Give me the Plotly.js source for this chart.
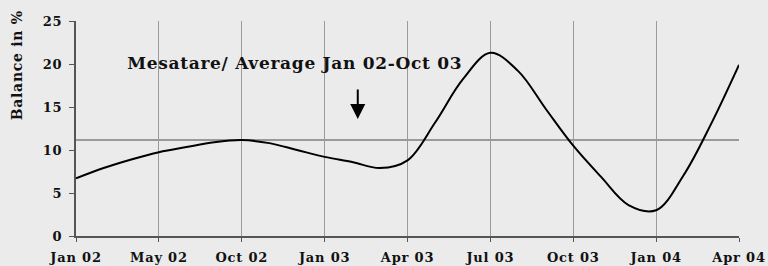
<!DOCTYPE html>
<html>
<head>
<meta charset="utf-8">
<script src="https://cdn.plot.ly/plotly-3.0.1.min.js"></script>
<style>
html,body{margin:0;padding:0;background:#ebebeb;}
#chart{width:768px;height:266px;}
#chart .xtick text, #chart .ytick text{letter-spacing:0.8px;}
#chart .annotation-text{letter-spacing:0.7px;}
</style>
</head>
<body>
<div id="chart"></div>
<script>
// Tick labels (every third point)
const tickLabels = ["Jan 02","May 02","Oct 02","Jan 03","Apr 03","Jul 03","Oct 03","Jan 04","Apr 04"];
// Point index along the category axis
const pointIndex = [0,1,2,3,4,5,6,7,8,9,10,11,12,13,14,15,16,17,18,19,20,21,22,23,24];
// Balance in %
const balance = [6.7,7.9,8.9,9.75,10.35,10.9,11.15,10.8,10.0,9.2,8.6,7.9,8.8,13.2,18.2,21.3,19.2,14.8,10.5,6.9,3.6,3.0,7.1,13.1,19.9];
// Average Jan 02 - Oct 03
const averageValue = 11.15;
const annotationText = "Mesatare/ Average Jan 02-Oct 03";
const yTitle = "Balance in %";

const tickVals = tickLabels.map((_, i) => i * 3);
const font = {family: "DejaVu Serif, serif", size: 13, color: "#111", weight: "bold"};

const traces = [
  {x: [pointIndex[0], pointIndex[pointIndex.length-1]], y: [averageValue, averageValue], mode: "lines",
   line: {color: "#9a9a9a", width: 2}, hoverinfo: "skip"},
  {x: pointIndex, y: balance, mode: "lines", line: {color: "#000", width: 2, shape: "spline", smoothing: 1}}
];

const layout = {
  width: 768, height: 266,
  margin: {l: 76, r: 29, t: 21, b: 30},
  paper_bgcolor: "#ebebeb", plot_bgcolor: "#ebebeb",
  showlegend: false,
  font: font,
  xaxis: {range: [0, 24], tickvals: tickVals, ticktext: tickLabels, showgrid: true, gridcolor: "#9a9a9a", gridwidth: 1,
          showline: true, linecolor: "#555", linewidth: 2, ticks: "outside", ticklen: 4, tickcolor: "#555",
          zeroline: false, tickfont: font, ticklabelstandoff: 4, fixedrange: true},
  yaxis: {range: [0, 25], dtick: 5, showgrid: false, showline: true, linecolor: "#555", linewidth: 2,
          ticks: "outside", ticklen: 5, tickcolor: "#555", zeroline: false, tickfont: font, ticklabelstandoff: 4, fixedrange: true},
  annotations: [
    {xref: "paper", yref: "paper", x: (17 - 76) / 663, y: (236 - 66) / 215, text: yTitle, textangle: -90,
     showarrow: false, xanchor: "center", yanchor: "middle", font: Object.assign({}, font, {size: 14})},
    {xref: "paper", yref: "paper", x: (294 - 76) / 663, y: (236 - 63) / 215, text: annotationText,
     showarrow: false, xanchor: "center", yanchor: "middle", font: Object.assign({}, font, {size: 17})},
    {x: 10.2, y: 13.6, text: "", showarrow: true, ax: 0, ay: -31, arrowhead: 2, arrowsize: 1.5, arrowwidth: 2, arrowcolor: "#000"}
  ]
};

Plotly.newPlot("chart", traces, layout, {displayModeBar: false, staticPlot: true});
</script>
</body>
</html>
